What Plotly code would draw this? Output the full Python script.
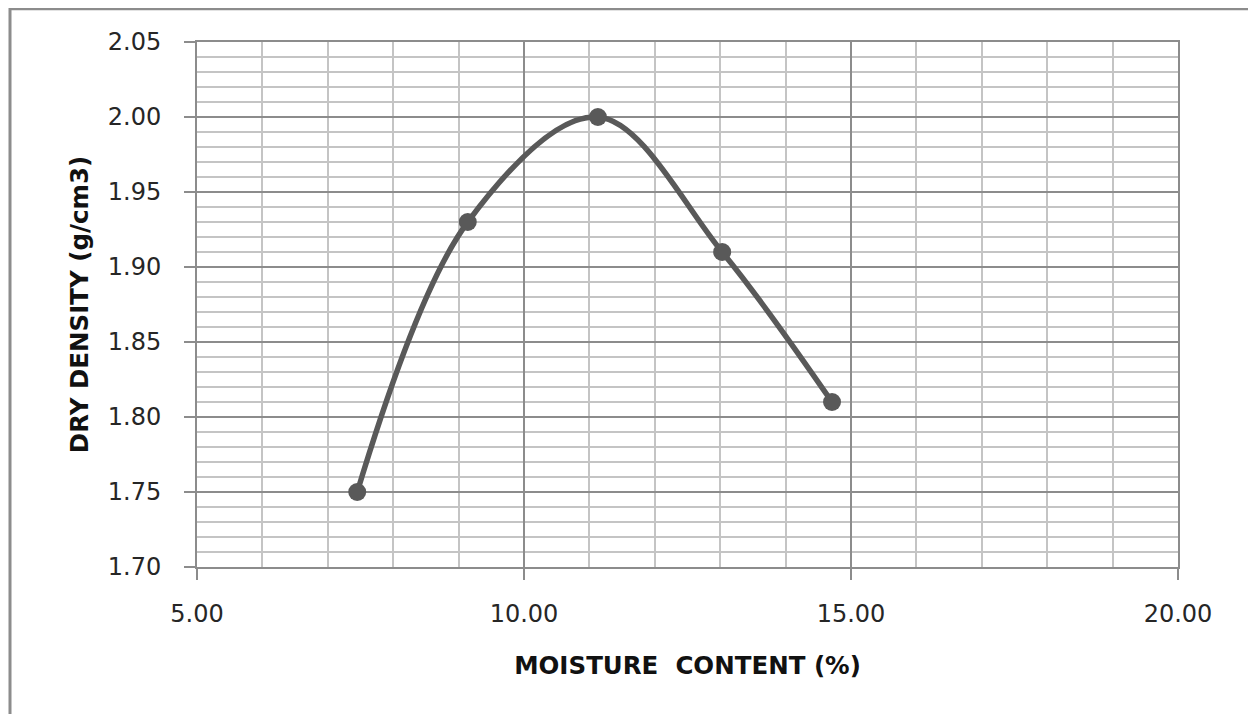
import plotly.graph_objects as go

moisture = [7.45, 9.14, 11.13, 13.03, 14.71]
dry_density = [1.75, 1.93, 2.00, 1.91, 1.81]

x_title = "MOISTURE  CONTENT (%)"
y_title = "DRY DENSITY (g/cm3)"

W, H = 1256, 714
OFF = 8  # page body margin offset
L, T = 197 - OFF, 42 - OFF
R = W - (1178 - OFF)
B = H - (567 - OFF)
pw, ph = W - L - R, H - T - B

fig = go.Figure()
fig.add_trace(go.Scatter(
    x=moisture, y=dry_density, mode="lines+markers",
    line=dict(color="#595959", width=5.5, shape="spline", smoothing=1.0),
    marker=dict(color="#595959", size=18),
    showlegend=False,
))

major = "#8c8c8c"
minor = "#c4c4c4"
tickfont = dict(family="DejaVu Sans", size=24, color="#262626")
titlefont = dict(family="DejaVu Sans", size=24.5, color="#111111", weight="bold")

fig.update_xaxes(
    range=[5, 20], tick0=5, dtick=5, tickformat=".2f",
    showgrid=True, gridcolor=major, gridwidth=2,
    minor=dict(dtick=1, showgrid=True, gridcolor=minor, gridwidth=2),
    showline=True, linecolor=major, linewidth=2, mirror=True,
    ticks="outside", ticklen=11, tickwidth=2, tickcolor=major,
    ticklabelstandoff=13,
    tickfont=tickfont, zeroline=False,
    title=dict(text=x_title, font=titlefont, standoff=30),
)
fig.update_yaxes(
    range=[1.70, 2.05], tick0=1.70, dtick=0.05, tickformat=".2f",
    showgrid=True, gridcolor=major, gridwidth=2,
    minor=dict(dtick=0.01, showgrid=True, gridcolor=minor, gridwidth=2),
    showline=True, linecolor=major, linewidth=2, mirror=True,
    ticks="outside", ticklen=11, tickwidth=2, tickcolor=major,
    ticklabelstandoff=18,
    tickfont=tickfont, zeroline=False,
    title=dict(text=y_title, font=titlefont, standoff=12),
)

# outer chart border (pixel positions converted to paper coords)
bx0, bx1 = 10 - OFF, 1254 - OFF
by0, by1 = 0.8, 740
fig.add_shape(
    type="rect", xref="paper", yref="paper",
    x0=(bx0 - L) / pw, x1=(bx1 - L) / pw,
    y0=(T + ph - by1) / ph, y1=(T + ph - by0) / ph,
    line=dict(color="#8c8c8c", width=3), fillcolor="rgba(0,0,0,0)", layer="below",
)

fig.update_layout(
    width=W, height=H,
    margin=dict(l=L, r=R, t=T, b=B),
    paper_bgcolor="white", plot_bgcolor="white",
)

fig.write_html("out.html")
